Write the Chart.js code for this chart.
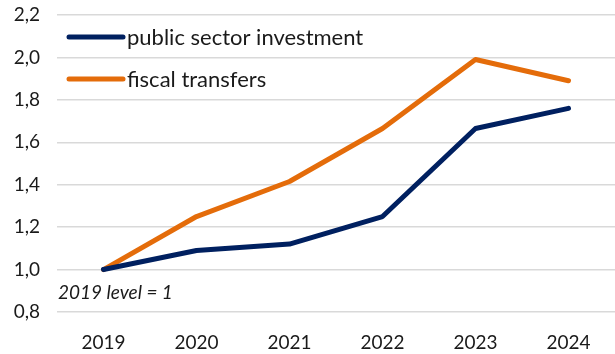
<!DOCTYPE html>
<html>
<head>
<meta charset="utf-8">
<script src="https://cdn.jsdelivr.net/npm/chart.js@4"></script>
<style>
  html, body { margin: 0; padding: 0; background: #fff; }
  #wrap { width: 615px; height: 354px; }
</style>
</head>
<body>
<div id="wrap"><canvas id="chart" width="615" height="354"></canvas></div>
<script>
const anos = ["2019", "2020", "2021", "2022", "2023", "2024"];
const investimento = [1.0, 1.09, 1.12, 1.25, 1.665, 1.76];
const transferencias = [1.0, 1.25, 1.415, 1.665, 1.99, 1.89];
const nomes = ["public sector investment", "fiscal transfers"];
const cores = ["#002060", "#E46C0A"];
const nota = "2019 level = 1";

const fonte = "Lato, 'Open Sans', sans-serif";

// legenda desenhada dentro da área do gráfico
const legendaInterna = {
  id: "legendaInterna",
  afterDraw(chart) {
    const c = chart.ctx;
    const area = chart.chartArea;
    c.save();
    c.font = "22px " + fonte;
    c.textBaseline = "middle";
    chart.data.datasets.forEach((ds, i) => {
      const y = 37 + i * 42;
      c.strokeStyle = ds.borderColor;
      c.lineWidth = 5;
      c.lineCap = "round";
      c.beginPath();
      c.moveTo(area.left + 12, y);
      c.lineTo(area.left + 66, y);
      c.stroke();
      c.fillStyle = "#1a1a1a";
      c.fillText(ds.label, area.left + 70, y + 1);
    });
    c.font = "italic 19px " + fonte;
    c.fillText(nota, area.left + 1, area.bottom - 19);
    c.restore();
  }
};

new Chart(document.getElementById("chart"), {
  type: "line",
  data: {
    labels: anos,
    datasets: [
      { label: nomes[0], data: investimento, borderColor: cores[0] },
      { label: nomes[1], data: transferencias, borderColor: cores[1] }
    ]
  },
  options: {
    responsive: false,
    animation: false,
    layout: { padding: { top: 15, right: 0, left: 0, bottom: 0 } },
    elements: {
      line: { borderWidth: 5, tension: 0, borderCapStyle: "round", borderJoinStyle: "round" },
      point: { radius: 0 }
    },
    plugins: { legend: { display: false }, tooltip: { enabled: false } },
    scales: {
      x: {
        offset: true,
        grid: { display: false, drawTicks: false },
        border: { display: false },
        ticks: { color: "#1a1a1a", font: { family: fonte, size: 19 }, padding: 19 },
        afterFit: s => { s.height = 42; }
      },
      y: {
        min: 0.8,
        max: 2.2,
        grid: { color: "#d9d9d9", lineWidth: 1.5, drawTicks: false },
        border: { display: false },
        ticks: {
          stepSize: 0.2,
          color: "#1a1a1a",
          font: { family: fonte, size: 19 },
          padding: 17,
          callback: v => v.toFixed(1).replace(".", ",")
        },
        afterFit: s => { s.width = 57; s.paddingTop = 0; s.paddingBottom = 0; }
      }
    }
  },
  plugins: [legendaInterna]
});
</script>
</body>
</html>
